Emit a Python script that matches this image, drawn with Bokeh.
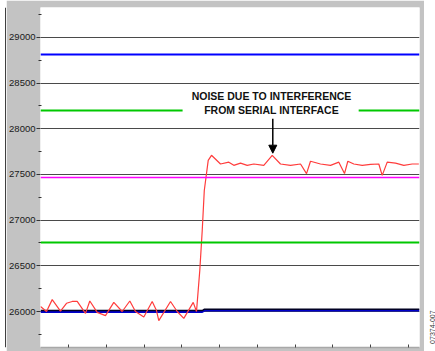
import math
from bokeh.plotting import figure
from bokeh.models import Span, Arrow, NormalHead, ColumnDataSource, Range1d, FixedTicker, CustomJSTickFormatter
from bokeh.layouts import row
from bokeh.core.properties import value
from bokeh.embed import file_html
from bokeh.resources import INLINE

# ---------------- data ----------------
sample_x = [-7.41, -5.82, -4.31, -2.12, -0.53, 0.98, 2.30, 4.50, 5.64, 7.60, 9.79, 11.99,
            14.21, 16.23, 17.73, 19.93, 22.15, 23.29, 23.90, 27.00, 28.77, 30.52, 33.01,
            33.88, 34.75, 35.39, 35.94, 36.98, 37.85, 40.23, 42.43, 43.75, 45.53, 47.30,
            49.05, 51.69, 53.92, 56.11, 58.76, 61.41, 63.00, 64.05, 66.70, 69.35, 71.55,
            73.05, 73.93, 75.52, 77.74, 79.94, 82.13, 83.03, 84.36, 86.55, 88.75, 90.97, 92.72]
adc_code = [26055, 26000, 26130, 26005, 26090, 26110, 26110, 25980, 26115, 25990, 25955, 26100,
            26000, 26115, 26000, 25940, 26110, 26010, 25900, 26110, 26000, 25925, 26100,
            26000, 26450, 26885, 27325, 27655, 27710, 27615, 27635, 27600, 27625, 27600,
            27615, 27600, 27710, 27615, 27600, 27615, 27510, 27645, 27615, 27600, 27635,
            27510, 27645, 27615, 27600, 27610, 27615, 27490, 27635, 27625, 27600, 27615, 27615]

# filtered (averaged) output: step at the input change
avg_x = [-7.41, 35.4, 36.0, 92.9]
avg_black = [26010, 26010, 26025, 26025]
avg_blue = [25995, 25995, 26010, 26010]

# limit / reference levels
blue_level = 28813
green_high_level = 28200
magenta_level = 27467
green_low_level = 26755
green_high_segments_x = [[-7.41, 30.2], [76.8, 92.9]]

y_ticks = [26000, 26500, 27000, 27500, 28000, 28500, 29000]
y_minor = [25750, 26250, 26750, 27250, 27750, 28250, 28750, 29250]
x_ticks = [0, 10, 20, 30, 40, 50, 60, 70, 80, 90]

note_lines = ["NOISE DUE TO INTERFERENCE", "FROM SERIAL INTERFACE"]
note_y = [28357, 28211]
note_x = 53.73
arrow_x = 54.07
arrow_y = [28109, 27733]
fig_id = "07374-007"

# ---------------- left black edge ----------------
edge = figure(width=6, height=351, x_range=Range1d(0, 6), y_range=Range1d(0, 1),
              toolbar_location=None, output_backend="svg",
              min_border=0, min_border_left=0, min_border_right=0, min_border_top=0, min_border_bottom=0)
edge.axis.visible = False
edge.grid.visible = False
edge.outline_line_color = None
edge.background_fill_color = "white"
edge.border_fill_color = "white"
edge.add_layout(Span(location=5.5, dimension="height", line_color="black", line_width=1.5))

# ---------------- main plot ----------------
grey = "#c3c3c3"
p = figure(width=418, height=351, x_range=Range1d(-7.41, 92.9), y_range=Range1d(25606, 29328),
           toolbar_location=None, output_backend="svg",
           min_border_left=34, min_border_right=5, min_border_top=7, min_border_bottom=4)
p.background_fill_color = "white"
p.border_fill_color = grey
p.outline_line_color = None

yt = FixedTicker(ticks=y_ticks, minor_ticks=y_minor)
p.yaxis.ticker = yt
p.yaxis.axis_line_color = None
p.yaxis.major_tick_out = 4
p.yaxis.major_tick_in = 0
p.yaxis.minor_tick_out = 2
p.yaxis.minor_tick_in = 1
p.yaxis.major_tick_line_color = "#333333"
p.yaxis.minor_tick_line_color = "#333333"
p.yaxis.major_label_standoff = 1
p.yaxis.major_label_text_font = "Liberation Sans"
p.yaxis.major_label_text_font_size = "9.5px"
p.yaxis.major_label_text_color = "#1a1a1a"

p.xaxis.ticker = FixedTicker(ticks=x_ticks, minor_ticks=[])
p.xaxis.formatter = CustomJSTickFormatter(code="return ''")
p.xaxis.major_label_text_font_size = "0px"
p.xaxis.major_label_standoff = 0
p.xaxis.major_tick_in = 3
p.xaxis.major_tick_out = 0
p.xaxis.major_tick_line_color = "#444444"
p.xaxis.axis_line_color = "#a8a8a8"
p.xaxis.axis_line_width = 1.5

p.xgrid.visible = False
p.ygrid.ticker = yt
p.ygrid.grid_line_color = "#4a4a4a"
p.ygrid.grid_line_width = 1

p.add_layout(Span(location=blue_level, dimension="width", line_color="#0000ff", line_width=2))
p.add_layout(Span(location=magenta_level, dimension="width", line_color="#ff00ff", line_width=1.5))
p.add_layout(Span(location=green_low_level, dimension="width", line_color="#00c800", line_width=2))
p.multi_line(xs=green_high_segments_x, ys=[[green_high_level] * 2] * 2, line_color="#00c800", line_width=2)

p.line(avg_x, avg_blue, line_color="#0000cc", line_width=2)
p.line(avg_x, avg_black, line_color="#000022", line_width=1.5)

p.line(sample_x, adc_code, line_color="#ff3c3c", line_width=1.2)

src = ColumnDataSource(dict(x=[note_x] * len(note_lines), y=note_y, t=note_lines))
p.text(x="x", y="y", text="t", source=src, text_font=value("Liberation Sans"),
       text_font_style="bold", text_font_size="10.5px", text_align="center",
       text_baseline="middle", text_color="#111111")

p.add_layout(Arrow(end=NormalHead(size=8, fill_color="black", line_color="black"),
                   x_start=arrow_x, y_start=arrow_y[0], x_end=arrow_x, y_end=arrow_y[1],
                   line_color="black", line_width=1.5))

# ---------------- right strip with figure id ----------------
side = figure(width=11, height=351, x_range=Range1d(0, 11), y_range=Range1d(0, 351),
              toolbar_location=None, output_backend="svg",
              min_border=0, min_border_left=0, min_border_right=0, min_border_top=0, min_border_bottom=0)
side.axis.visible = False
side.grid.visible = False
side.outline_line_color = None
side.background_fill_color = "white"
side.border_fill_color = "white"
side.text(x=[7.5], y=[21], text=[fig_id], angle=math.pi / 2, text_font=value("Liberation Sans"),
          text_font_size="7px", text_align="center", text_baseline="middle", text_color="#333333")

layout = row(edge, p, side, spacing=0)
open("out.html", "w").write(file_html(layout, INLINE))
